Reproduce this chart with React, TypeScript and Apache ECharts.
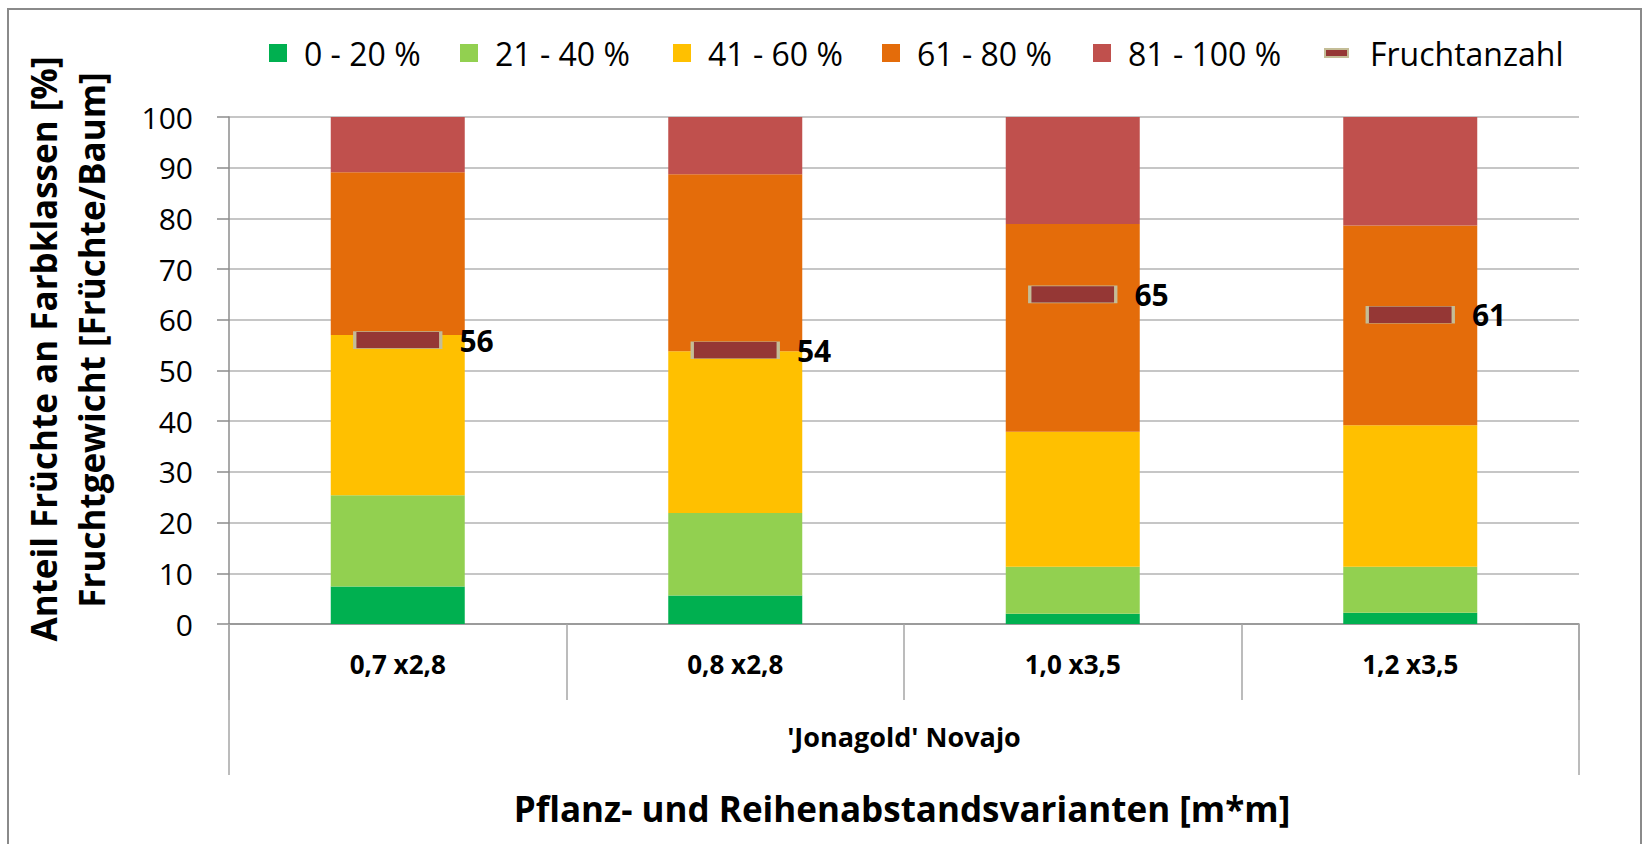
import React, { useEffect, useRef } from 'react';
import * as echarts from 'echarts';

const categories = ['0,7 x2,8', '0,8 x2,8', '1,0 x3,5', '1,2 x3,5'];
const groupLabel = ["'Jonagold' Novajo"];
const seriesNames = ['0 - 20 %', '21 - 40 %', '41 - 60 %', '61 - 80 %', '81 - 100 %'];
const class0to20 = [7.4, 5.6, 2.0, 2.2];
const class21to40 = [18.0, 16.3, 9.3, 9.1];
const class41to60 = [31.6, 31.9, 26.6, 27.9];
const class61to80 = [32.1, 34.9, 41.0, 39.4];
const class81to100 = [10.9, 11.3, 21.1, 21.4];
const markerName = 'Fruchtanzahl';
const fruchtanzahl = [56, 54, 65, 61];
const yTitle1 = 'Anteil Früchte an Farbklassen [%]';
const yTitle2 = 'Fruchtgewicht [Früchte/Baum]';
const xTitle = 'Pflanz- und Reihenabstandsvarianten [m*m]';

const colors = ['#00b050', '#92d050', '#ffc000', '#e46c0a', '#c0504d'];
const FONT = '"Open Sans", "Noto Sans", sans-serif';

export default function App() {
  const ref = useRef<HTMLDivElement>(null);
  useEffect(() => {
    if (!ref.current) return;
    const chart = echarts.init(ref.current, undefined, { renderer: 'svg' });
    const classData = [class0to20, class21to40, class41to60, class61to80, class81to100];
    const legendLefts = [264, 455, 668, 877, 1088, 1319];
    const allNames = [...seriesNames, markerName];
    const legends = allNames.map((n, i) => ({
      data: [n],
      left: legendLefts[i],
      top: 32,
      itemWidth: i === 5 ? 23 : 18,
      itemHeight: i === 5 ? 8 : 18,
      icon: 'rect',
      selectedMode: false,
      textStyle: {
        fontFamily: FONT,
        fontSize: 32,
        color: '#000',
        padding: [0, 0, 0, i === 5 ? 17 : 12],
      },
    }));
    const option: any = {
      animation: false,
      backgroundColor: '#fff',
      textStyle: { fontFamily: FONT },
      legend: legends,
      grid: { left: 229, right: 63, top: 117, bottom: 220, containLabel: false },
      xAxis: [
        {
          type: 'category',
          data: categories,
          position: 'bottom',
          axisLine: { show: true, lineStyle: { color: '#8c8c8c', width: 1.5 } },
          axisTick: { show: true, interval: 0, length: 76, lineStyle: { color: '#a6a6a6', width: 1.5 } },
          axisLabel: { interval: 0, margin: 27, fontSize: 26, fontWeight: 'bold', color: '#000', fontFamily: FONT },
        },
        {
          type: 'category',
          data: groupLabel,
          position: 'bottom',
          axisLine: { show: false },
          axisTick: { show: true, length: 151, lineStyle: { color: '#a6a6a6', width: 1.5 } },
          axisLabel: { margin: 99, fontSize: 27, fontWeight: 'bold', color: '#000', fontFamily: FONT },
        },
      ],
      yAxis: {
        type: 'value',
        min: 0,
        max: 100,
        interval: 10,
        axisLine: { show: true, lineStyle: { color: '#8c8c8c', width: 1.5 } },
        axisTick: { show: true, length: 12, lineStyle: { color: '#8c8c8c', width: 1.5 } },
        axisLabel: { margin: 36, fontSize: 30, color: '#000', fontFamily: FONT },
        splitLine: { show: true, lineStyle: { color: '#b3b3b3', width: 1.5 } },
      },
      series: [
        ...classData.map((d, i) => ({
          name: seriesNames[i],
          type: 'bar',
          stack: 'farb',
          barWidth: 134,
          xAxisIndex: 0,
          data: d,
          itemStyle: { color: colors[i] },
        })),
        {
          name: markerName,
          type: 'scatter',
          xAxisIndex: 0,
          data: fruchtanzahl,
          symbol: 'rect',
          symbolSize: [86, 17],
          z: 5,
          itemStyle: { color: '#953735', borderColor: '#c4bd97', borderWidth: 1.5, opacity: 1 },
          label: {
            show: true,
            position: 'right',
            distance: 17,
            formatter: (p: any) => String(Array.isArray(p.value) ? p.value[1] : p.value),
            fontSize: 30,
            fontWeight: 'bold',
            color: '#000',
            fontFamily: FONT,
          },
        },
      ],
      graphic: [
        {
          type: 'rect',
          shape: { x: 8, y: 9, width: 1633, height: 850 },
          style: { fill: 'none', stroke: '#8a8a8a', lineWidth: 2 },
          silent: true,
        },
        {
          type: 'text',
          x: 43,
          y: 349,
          rotation: Math.PI / 2,
          style: {
            text: yTitle1,
            fontSize: 35,
            fontWeight: 'bold',
            fontFamily: FONT,
            fill: '#000',
            align: 'center',
            verticalAlign: 'middle',
          },
        },
        {
          type: 'text',
          x: 91,
          y: 340,
          rotation: Math.PI / 2,
          style: {
            text: yTitle2,
            fontSize: 35,
            fontWeight: 'bold',
            fontFamily: FONT,
            fill: '#000',
            align: 'center',
            verticalAlign: 'middle',
          },
        },
        {
          type: 'text',
          x: 902,
          y: 808,
          style: {
            text: xTitle,
            fontSize: 35,
            fontWeight: 'bold',
            fontFamily: FONT,
            fill: '#000',
            align: 'center',
            verticalAlign: 'middle',
          },
        },
      ],
    };
    chart.setOption(option);
    return () => chart.dispose();
  }, []);
  return (
    <div
      ref={ref}
      style={{ position: 'fixed', left: 0, top: 0, width: 1642, height: 844, background: '#fff' }}
    />
  );
}
